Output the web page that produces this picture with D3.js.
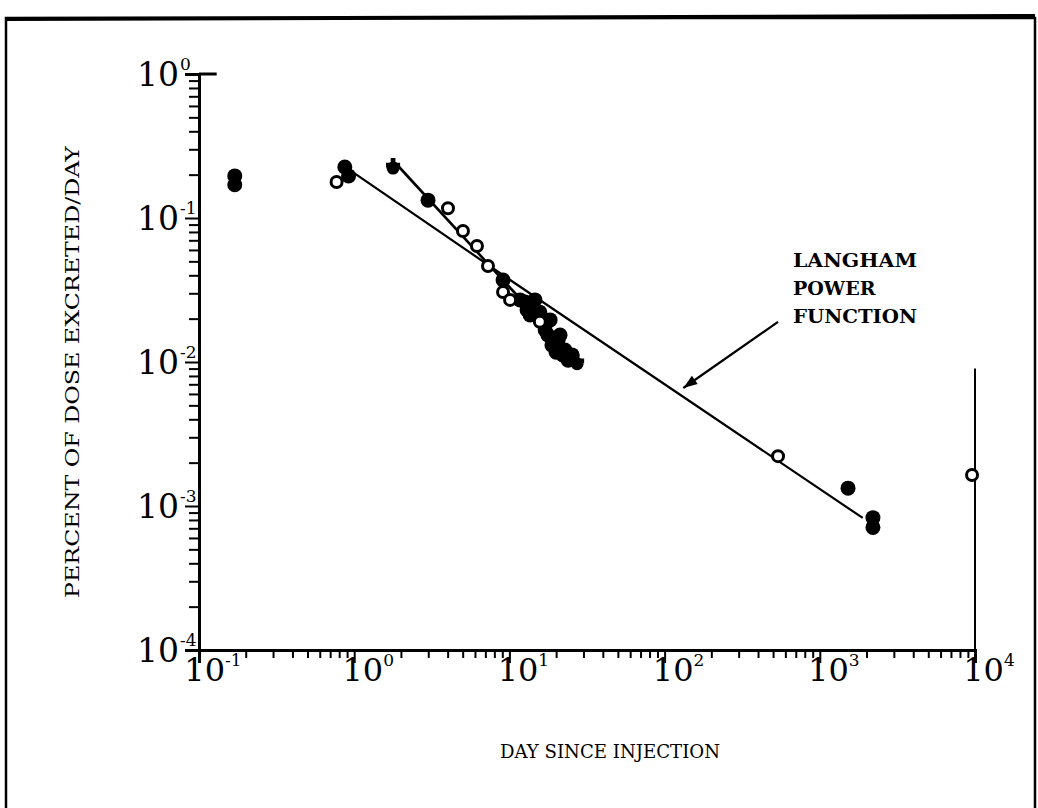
<!DOCTYPE html>
<html><head><meta charset="utf-8">
<script src="https://cdnjs.cloudflare.com/ajax/libs/d3/7.8.5/d3.min.js"></script>
<style>
html,body{margin:0;padding:0;background:#fff;}
svg{display:block;}
</style></head>
<body><svg id="c" width="1038" height="808"></svg>
<script>
// ---- data ----
const xMajor = [0.1, 1, 10, 100, 1000, 10000];
const xExp = ["-1", "0", "1", "2", "3", "4"];
const yMajor = [1, 0.1, 0.01, 0.001, 0.0001];
const yExp = ["0", "-1", "-2", "-3", "-4"];

const filledDays = [0.17, 0.17, 0.87, 0.92, 2.99, 9.1, 11.7, 12.6, 13.0, 13.6, 14.0, 14.6, 15.3, 15.7, 17.0, 17.0, 17.7, 18.3, 18.8, 19.7, 20.0, 20.6, 21.2, 22.1, 22.8, 23.9, 24.6, 25.3, 1520, 2200, 2200];
const filledPct  = [0.196, 0.170, 0.226, 0.196, 0.133, 0.0371, 0.027, 0.0261, 0.023, 0.0212, 0.0249, 0.027, 0.0209, 0.0222, 0.0181, 0.0167, 0.0154, 0.0196, 0.0131, 0.0131, 0.0117, 0.0142, 0.0154, 0.0112, 0.0121, 0.0103, 0.0107, 0.0112, 0.00133, 0.00083, 0.00071];

const openDays = [0.77, 4.02, 5.02, 6.18, 7.28, 9.1, 10.1, 15.7, 538, 9570];
const openPct  = [0.178, 0.117, 0.0813, 0.0639, 0.0464, 0.0306, 0.027, 0.019, 0.00222, 0.00164];

const spikeDays = [1.78, 27.3];
const spikePct  = [0.233, 0.0102];

const langhamDays = [1.0, 10, 100, 1890];
const langhamPct  = [0.205, 0.0374, 0.00701, 0.000826];

const steepDays = [1.85, 27.3];
const steepPct  = [0.24, 0.0102];

const arrowDays = [538, 132];
const arrowPct  = [0.019, 0.0066];

const labelLines = ["LANGHAM", "POWER", "FUNCTION"];
const xTitle = "DAY SINCE INJECTION";
const yTitle = "PERCENT OF DOSE EXCRETED/DAY";

// ---- drawing ----
const svg = d3.select("#c");
const x = d3.scaleLog().domain([0.1, 10000]).range([199, 975]);
const y = d3.scaleLog().domain([1e-4, 1]).range([650, 74]);
const FONT = "'DejaVu Serif', 'Liberation Serif', serif";

// outer frame
svg.append("rect").attr("x", 6).attr("y", 18).attr("width", 1029).attr("height", 820)
  .attr("fill", "none").attr("stroke", "#000").attr("stroke-width", 2.5);
svg.append("line").attr("x1", 6).attr("x2", 1035).attr("y1", 19).attr("y2", 16)
  .attr("stroke", "#000").attr("stroke-width", 4);

// minor tick values
function minors(lo, hi) {
  const out = [];
  for (let e = lo; e < hi; e++) for (let k = 2; k <= 9; k++) out.push(k * Math.pow(10, e));
  return out;
}
const xMinor = minors(-1, 4);
const yMinor = minors(-4, 0);

const gx = svg.append("g").attr("transform", `translate(0,${y(1e-4)})`);
gx.call(d3.axisBottom(x).tickValues(xMajor).tickSize(13).tickFormat(""));
gx.append("g").call(d3.axisBottom(x).tickValues(xMinor).tickSize(8).tickFormat(""));
const gy = svg.append("g").attr("transform", `translate(${x(0.1)},0)`);
gy.call(d3.axisLeft(y).tickValues(yMajor).tickSize(14).tickFormat(""));
gy.append("g").call(d3.axisLeft(y).tickValues(yMinor).tickSize(10).tickFormat(""));
svg.selectAll(".domain").attr("stroke-width", 3).attr("stroke", "#000");
svg.selectAll(".tick line").attr("stroke-width", 2).attr("stroke", "#000");
gx.selectAll("g g .domain").remove();
gy.selectAll("g g .domain").remove();

// right frame line and short top stub
svg.append("line").attr("x1", x(10000)).attr("x2", x(10000)).attr("y1", y(0.009)).attr("y2", y(1e-4))
  .attr("stroke", "#000").attr("stroke-width", 2);
svg.append("line").attr("x1", x(0.1)).attr("x2", x(0.13)).attr("y1", y(1)).attr("y2", y(1))
  .attr("stroke", "#000").attr("stroke-width", 3);

// tick labels
xMajor.forEach((v, i) => {
  const t = svg.append("text").attr("x", x(v) + 14).attr("y", y(1e-4) + 31)
    .attr("text-anchor", "middle").attr("font-family", FONT).attr("font-size", 32).attr("fill", "#000");
  t.append("tspan").text("10");
  t.append("tspan").attr("dy", -15).attr("font-size", 17).text(xExp[i]);
});
yMajor.forEach((v, i) => {
  svg.append("text").attr("x", x(0.1) - 20).attr("y", y(v) + 12)
    .attr("text-anchor", "end").attr("font-family", FONT).attr("font-size", 33).attr("fill", "#000")
    .text("10");
  svg.append("text").attr("x", x(0.1) - 19).attr("y", y(v) - 4)
    .attr("text-anchor", "start").attr("font-family", FONT).attr("font-size", 17).attr("fill", "#000")
    .text(yExp[i]);
});

// lines
const line = d3.line().x(d => x(d[0])).y(d => y(d[1]));
svg.append("path").datum(langhamDays.map((d, i) => [d, langhamPct[i]]))
  .attr("d", line).attr("fill", "none").attr("stroke", "#000").attr("stroke-width", 2.2);
svg.append("path").datum(steepDays.map((d, i) => [d, steepPct[i]]))
  .attr("d", line).attr("fill", "none").attr("stroke", "#000").attr("stroke-width", 2.6);

// filled markers
svg.append("g").selectAll("circle").data(filledDays.map((d, i) => [d, filledPct[i]])).join("circle")
  .attr("cx", d => x(d[0])).attr("cy", d => y(d[1])).attr("r", 7.5).attr("fill", "#000");
// spike markers
svg.append("g").selectAll("path").data(spikeDays.map((d, i) => [d, spikePct[i]])).join("path")
  .attr("transform", d => `translate(${x(d[0])},${y(d[1])})`)
  .attr("d", d3.symbol(d3.symbolCross, 110)).attr("fill", "#000");
svg.append("g").selectAll("circle").data(spikeDays.map((d, i) => [d, spikePct[i]])).join("circle")
  .attr("cx", d => x(d[0])).attr("cy", d => y(d[1]) + 3).attr("r", 6.5).attr("fill", "#000");
// open markers
svg.append("g").selectAll("circle").data(openDays.map((d, i) => [d, openPct[i]])).join("circle")
  .attr("cx", d => x(d[0])).attr("cy", d => y(d[1])).attr("r", 5.5)
  .attr("fill", "#fff").attr("stroke", "#000").attr("stroke-width", 3);

// annotation
const a0 = [x(arrowDays[0]), y(arrowPct[0])], a1 = [x(arrowDays[1]), y(arrowPct[1])];
svg.append("line").attr("x1", a0[0]).attr("y1", a0[1]).attr("x2", a1[0]).attr("y2", a1[1])
  .attr("stroke", "#000").attr("stroke-width", 2.2);
const ang = Math.atan2(a1[1] - a0[1], a1[0] - a0[0]) * 180 / Math.PI;
svg.append("path").attr("transform", `translate(${a1[0]},${a1[1]}) rotate(${ang})`)
  .attr("d", "M0,0 L-14,-5 L-14,5 Z").attr("fill", "#000");
labelLines.forEach((s, i) => {
  const t = svg.append("text").attr("x", 793).attr("y", 267 + i * 28)
    .attr("font-family", FONT).attr("font-weight", "bold").attr("font-size", 19).attr("fill", "#000")
    .text(s);
  if (s.length > 5) t.attr("textLength", 124).attr("lengthAdjust", "spacingAndGlyphs");
});

// axis titles
svg.append("text").attr("x", 610).attr("y", 758).attr("text-anchor", "middle")
  .attr("font-family", FONT).attr("font-size", 18).attr("fill", "#000")
  .attr("textLength", 220).attr("lengthAdjust", "spacingAndGlyphs").text(xTitle);
svg.append("text").attr("transform", "translate(79,372) rotate(-90)").attr("text-anchor", "middle")
  .attr("font-family", FONT).attr("font-size", 19).attr("fill", "#000")
  .attr("textLength", 452).attr("lengthAdjust", "spacingAndGlyphs").text(yTitle);
</script></body></html>
